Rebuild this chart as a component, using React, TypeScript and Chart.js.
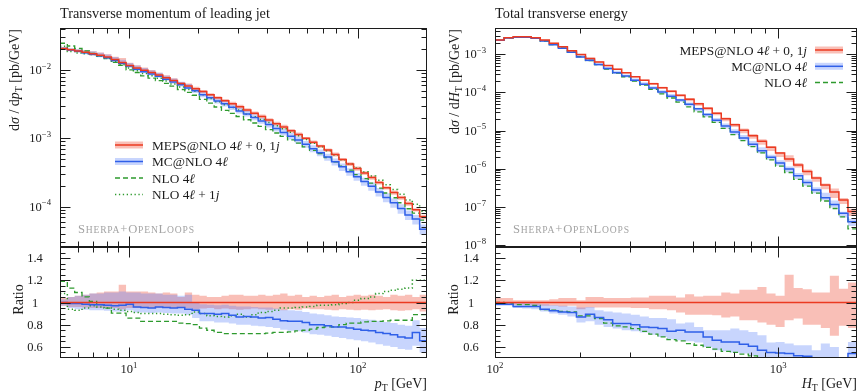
import React, { useEffect, useRef } from "react";
import { Chart, registerables } from "chart.js";

Chart.register(...registerables);

// ---------------- data: leading-jet pT (left) ----------------
const ptEdges = [5.0, 5.383, 5.795, 6.238, 6.716, 7.23, 7.784, 8.38, 9.021, 9.712, 10.456, 11.256, 12.118, 13.046, 14.044, 15.12, 16.277, 17.523, 18.865, 20.309, 21.864, 23.538, 25.34, 27.28, 29.369, 31.623, 34.044, 36.65, 39.456, 42.477, 45.729, 49.23, 53.0, 57.057, 61.425, 66.128, 71.191, 76.642, 82.51, 88.827, 95.628, 102.95, 110.831, 119.317, 128.452, 138.287, 148.874, 160.272, 172.543, 185.753, 200.0];
const ptMeps = [0.02071, 0.01988, 0.01903, 0.01821, 0.01737, 0.01651, 0.01553, 0.01427, 0.01289, 0.01165,
  0.0107, 0.0099, 0.00919, 0.00844, 0.0077, 0.00701, 0.00637, 0.00582, 0.00534, 0.00483,
  0.00436, 0.00394, 0.00356, 0.00322, 0.0029, 0.0026, 0.00233, 0.00208, 0.00185, 0.00164,
  0.00146, 0.00129, 0.00114, 0.001, 0.000879, 0.00077, 0.000673, 0.000582, 0.000491, 0.000422,
  0.000362, 0.000311, 0.000267, 0.000225, 0.00019, 0.000161, 0.000136, 0.000111, 0.0000903, 0.0000713];
const ptMepsUp = [1.04, 1.05, 1.06, 1.07, 1.08, 1.09, 1.1, 1.1, 1.16, 1.1,
  1.1, 1.1, 1.09, 1.08, 1.09, 1.08, 1.05, 1.09, 1.07, 1.06,
  1.05, 1.05, 1.06, 1.07, 1.07, 1.06, 1.06, 1.07, 1.06, 1.07,
  1.08, 1.06, 1.07, 1.05, 1.06, 1.05, 1.06, 1.07, 1.05, 1.06,
  1.07, 1.06, 1.07, 1.06, 1.05, 1.07, 1.06, 1.07, 1.05, 1.07];
const ptMepsDn = [0.97, 0.96, 0.96, 0.955, 0.95, 0.95, 0.95, 0.95, 0.94, 0.95,
  0.95, 0.95, 0.95, 0.955, 0.95, 0.95, 0.955, 0.95, 0.94, 0.945,
  0.95, 0.94, 0.945, 0.94, 0.935, 0.94, 0.945, 0.94, 0.935, 0.94,
  0.93, 0.94, 0.935, 0.945, 0.94, 0.94, 0.935, 0.93, 0.94, 0.935,
  0.93, 0.935, 0.93, 0.935, 0.94, 0.93, 0.925, 0.93, 0.94, 0.92];
const ptMcnloRatio = [1.0, 0.99, 0.99, 0.985, 0.98, 0.98, 0.975, 0.97, 0.975, 0.985,
  0.96, 0.955, 0.95, 0.96, 0.955, 0.95, 0.955, 0.94, 0.93, 0.9,
  0.9, 0.895, 0.9, 0.885, 0.87, 0.875, 0.87, 0.86, 0.865, 0.85,
  0.835, 0.83, 0.83, 0.82, 0.8, 0.8, 0.79, 0.78, 0.78, 0.77,
  0.76, 0.75, 0.745, 0.73, 0.72, 0.71, 0.69, 0.68, 0.73, 0.655];
const ptMcnloUp = [1.03, 1.05, 1.06, 1.07, 1.08, 1.08, 1.09, 1.09, 1.1, 1.09,
  1.09, 1.08, 1.08, 1.08, 1.07, 1.07, 1.06, 1.07, 1.0, 0.985,
  0.98, 0.975, 0.98, 0.97, 0.965, 0.965, 0.96, 0.955, 0.955, 0.945,
  0.935, 0.93, 0.925, 0.915, 0.9, 0.895, 0.885, 0.875, 0.87, 0.865,
  0.86, 0.85, 0.845, 0.835, 0.825, 0.815, 0.8, 0.79, 0.84, 0.77];
const ptMcnloDn = [0.97, 0.95, 0.94, 0.935, 0.93, 0.93, 0.925, 0.92, 0.92, 0.93,
  0.91, 0.91, 0.905, 0.91, 0.905, 0.9, 0.9, 0.89, 0.86, 0.83,
  0.83, 0.82, 0.82, 0.81, 0.8, 0.8, 0.79, 0.785, 0.78, 0.77,
  0.755, 0.745, 0.74, 0.73, 0.715, 0.71, 0.7, 0.69, 0.68, 0.67,
  0.66, 0.65, 0.64, 0.625, 0.61, 0.6, 0.58, 0.575, 0.61, 0.55];
const ptNloRatio = [1.19, 1.13, 1.09, 1.05, 1.01, 0.98, 0.95, 0.905, 0.905, 0.86,
  0.86, 0.83, 0.83, 0.83, 0.83, 0.83, 0.815, 0.81, 0.8, 0.77,
  0.75, 0.73, 0.72, 0.72, 0.72, 0.72, 0.72, 0.72, 0.725, 0.73,
  0.73, 0.735, 0.745, 0.75, 0.76, 0.775, 0.78, 0.78, 0.8, 0.815,
  0.815, 0.825, 0.83, 0.83, 0.835, 0.84, 0.84, 0.84, 0.89, 0.89];
const ptNlo1jRatio = [1.08, 0.94, 0.93, 0.95, 0.97, 0.96, 0.95, 0.94, 0.93, 0.92,
  0.91, 0.9, 0.9, 0.9, 0.895, 0.89, 0.885, 0.89, 0.915, 0.9,
  0.88, 0.875, 0.87, 0.88, 0.895, 0.87, 0.89, 0.91, 0.92, 0.93,
  0.95, 0.95, 0.955, 0.96, 0.965, 0.975, 0.975, 0.98, 0.99, 1.0,
  1.02, 1.035, 1.05, 1.08, 1.1, 1.11, 1.12, 1.13, 1.2, 1.2];

// ---------------- data: total transverse energy HT (right) ----------------
const htEdges = [100, 107.64, 115.86, 124.71, 134.24, 144.49, 155.53, 167.41, 180.2, 193.97, 208.79, 224.74, 241.91, 260.39, 280.28, 301.69, 324.74, 349.55, 376.25, 404.99, 435.89, 469.19, 505.03, 543.61, 585.14, 629.84, 677.96, 729.75, 785.5, 845.5, 910.09, 979.61, 1054.45, 1135.0, 1221.71, 1315.04, 1415.5, 1523.63, 1640.02, 1765.31, 1900];
const htMeps = [2.378e-3, 2.734e-3, 2.904e-3, 2.904e-3, 2.734e-3, 2.378e-3, 1.948e-3, 1.585e-3, 1.243e-3, 9.88e-4,
  7.85e-4, 6.27e-4, 5.07e-4, 4.1e-4, 3.32e-4, 2.6e-4, 2.11e-4, 1.7e-4, 1.34e-4, 1.08e-4,
  8.49e-5, 6.66e-5, 5.07e-5, 3.86e-5, 2.85e-5, 2.04e-5, 1.42e-5, 1.02e-5, 7.3e-6, 5.23e-6,
  3.64e-6, 2.6e-6, 1.81e-6, 1.26e-6, 8.49e-7, 5.73e-7, 3.75e-7, 2.45e-7, 1.51e-7, 7.52e-8];
const htMepsUp = [1.04, 1.04, 1.02, 1.02, 1.02, 1.02, 1.03, 1.04, 1.04, 1.02,
  1.05, 1.05, 1.04, 1.04, 1.04, 1.045, 1.045, 1.06, 1.06, 1.06,
  1.045, 1.075, 1.055, 1.06, 1.06, 1.09, 1.08, 1.115, 1.115, 1.14,
  1.08, 1.06, 1.25, 1.13, 1.12, 1.09, 1.09, 1.24, 1.125, 1.18];
const htMepsDn = [0.985, 0.985, 0.98, 0.98, 0.975, 0.97, 0.97, 0.965, 0.97, 0.94,
  0.955, 0.955, 0.955, 0.955, 0.955, 0.95, 0.95, 0.94, 0.94, 0.93,
  0.91, 0.89, 0.89, 0.89, 0.885, 0.865, 0.875, 0.84, 0.84, 0.82,
  0.8, 0.78, 0.84, 0.855, 0.8, 0.8, 0.77, 0.7, 0.79, 0.77];
const htMcnloRatio = [0.985, 0.985, 0.965, 0.965, 0.965, 0.94, 0.925, 0.915, 0.91, 0.87,
  0.895, 0.865, 0.845, 0.81, 0.81, 0.8, 0.78, 0.775, 0.765, 0.74,
  0.75, 0.735, 0.735, 0.69, 0.66, 0.645, 0.645, 0.625, 0.605, 0.57,
  0.55, 0.545, 0.54, 0.52, 0.515, 0.48, 0.46, 0.47, 0.45, 0.54];
const htMcnloUp = [1.0, 1.0, 1.0, 0.995, 0.99, 0.985, 0.975, 0.97, 0.965, 0.955,
  0.96, 0.93, 0.92, 0.91, 0.9, 0.89, 0.875, 0.86, 0.86, 0.85,
  0.81, 0.82, 0.78, 0.75, 0.75, 0.75, 0.765, 0.75, 0.735, 0.705,
  0.64, 0.645, 0.63, 0.615, 0.615, 0.57, 0.63, 0.6, 0.49, 0.645];
const htMcnloDn = [0.97, 0.97, 0.95, 0.945, 0.94, 0.92, 0.9, 0.89, 0.875, 0.82,
  0.83, 0.8, 0.78, 0.765, 0.75, 0.74, 0.73, 0.71, 0.69, 0.67,
  0.66, 0.65, 0.64, 0.6, 0.57, 0.56, 0.55, 0.54, 0.52, 0.49,
  0.47, 0.46, 0.45, 0.43, 0.42, 0.4, 0.4, 0.39, 0.35, 0.42];
const htNloRatio = [1.0, 0.995, 0.98, 0.98, 0.975, 0.935, 0.93, 0.92, 0.915, 0.88,
  0.88, 0.855, 0.815, 0.79, 0.78, 0.765, 0.74, 0.715, 0.69, 0.665,
  0.655, 0.63, 0.615, 0.595, 0.58, 0.56, 0.55, 0.535, 0.52, 0.5,
  0.47, 0.45, 0.44, 0.42, 0.41, 0.4, 0.38, 0.37, 0.36, 0.35];

// ratio-axis ticks
const ratioMajor = [0.6, 0.8, 1.0, 1.2, 1.4];
const ratioLabels = ["0.6", "0.8", "1", "1.2", "1.4"];
const ratioMinor = [0.5, 0.55, 0.65, 0.7, 0.75, 0.85, 0.9, 0.95, 1.05, 1.1, 1.15, 1.25, 1.3, 1.35, 1.45];

// ---------------- styling ----------------
const SERIF = "'Liberation Serif', 'DejaVu Serif', serif";
const RED = "#eb3a21";
const RED_BAND = "rgba(240, 95, 75, 0.40)";
const BLUE = "#2f5fe8";
const BLUE_BAND = "rgba(85, 125, 250, 0.32)";
const GREEN = "#2e9a2e";
const INK = "#1c1c1c";

type Seg = { t: string; it?: boolean; sub?: boolean; sup?: boolean; k?: number };

function segFont(size: number, s: Seg) {
  const k = s.k ?? (s.sub || s.sup ? 0.7 : 1);
  return `${s.it ? "italic " : ""}${(size * k).toFixed(2)}px ${SERIF}`;
}
function segsWidth(ctx: CanvasRenderingContext2D, segs: Seg[], size: number) {
  let w = 0;
  for (const s of segs) {
    ctx.font = segFont(size, s);
    w += ctx.measureText(s.t).width;
  }
  return w;
}
function drawSegs(ctx: CanvasRenderingContext2D, segs: Seg[], x: number, y: number, size: number, align: string) {
  const w = segsWidth(ctx, segs, size);
  let cx = align === "left" ? x : align === "right" ? x - w : x - w / 2;
  ctx.textAlign = "left";
  ctx.textBaseline = "alphabetic";
  for (const s of segs) {
    ctx.font = segFont(size, s);
    const dy = s.sub ? size * 0.22 : s.sup ? -size * 0.42 : 0;
    ctx.fillText(s.t, cx, y + dy);
    cx += ctx.measureText(s.t).width;
  }
}

function logMajors(lo: number, hi: number) {
  const out: number[] = [];
  for (let e = Math.floor(Math.log10(lo)); e <= Math.ceil(Math.log10(hi)); e++) {
    const v = Math.pow(10, e);
    if (v >= lo && v <= hi) out.push(v);
  }
  return out;
}
function logMinors(lo: number, hi: number) {
  const out: number[] = [];
  for (let e = Math.floor(Math.log10(lo)); e <= Math.ceil(Math.log10(hi)); e++) {
    for (let m = 2; m <= 9; m++) {
      const v = m * Math.pow(10, e);
      if (v > lo * 1.001 && v < hi * 0.999) out.push(v);
    }
  }
  return out;
}
function expLabel(v: number): Seg[] {
  const e = Math.round(Math.log10(v));
  return [{ t: "10" }, { t: e < 0 ? "\u2212" + -e : String(e), sup: true }];
}

function steps(edges: number[], vals: number[]) {
  const pts = vals.map((v, i) => ({ x: edges[i], y: v }));
  pts.push({ x: edges[vals.length], y: vals[vals.length - 1] });
  return pts;
}
function scaled(base: number[], ratio: number[]) {
  return base.map((b, i) => b * ratio[i]);
}
function lineDs(data: any[], color: string, dash: number[] = [], width = 1.5) {
  return { data, borderColor: color, borderWidth: width, borderDash: dash, pointRadius: 0, fill: false, stepped: true, order: 0, borderCapStyle: "butt" };
}
function bandDs(lo: any[], hi: any[], color: string, order: number) {
  return [
    { data: lo, borderWidth: 0, borderColor: "rgba(0,0,0,0)", pointRadius: 0, fill: false, stepped: true, order },
    { data: hi, borderWidth: 0, borderColor: "rgba(0,0,0,0)", pointRadius: 0, fill: "-1", backgroundColor: color, stepped: true, order },
  ];
}

type LegendItem = { segs: Seg[]; color: string; band?: string; dash?: number[] };

interface Decor {
  xMajor: number[];
  xMinor: number[];
  yMajor: number[];
  yMinor: number[];
  yLabels: { v: number; segs: Seg[] }[];
  yLabelAlign: string;
  yLabelDx: number;
  yTitle: Seg[];
  yTitleDx: number;
  yTitleMode: string;
  xLabels?: { v: number; segs: Seg[] }[];
  xTitle?: Seg[];
  title?: string;
  legend?: { items: LegendItem[]; x1: number; x2: number; tx: number; talign: string; y0: number; dy: number };
  mark?: { x: number; y: number };
}

function decorPlugin(d: Decor) {
  return {
    id: "decor",
    afterDraw(chart: any) {
      const ctx: CanvasRenderingContext2D = chart.ctx;
      const a = chart.chartArea;
      const xs = chart.scales.x;
      const ys = chart.scales.y;
      ctx.save();
      ctx.strokeStyle = INK;
      ctx.fillStyle = INK;
      ctx.lineWidth = 1;
      ctx.setLineDash([]);
      const L = Math.round(a.left) + 0.5;
      const R = Math.round(a.right) - 0.5;
      const T = Math.round(a.top) + 0.5;
      const B = Math.round(a.bottom) - 0.5;
      const seg = (x1: number, y1: number, x2: number, y2: number) => {
        ctx.beginPath();
        ctx.moveTo(x1, y1);
        ctx.lineTo(x2, y2);
        ctx.stroke();
      };
      ctx.strokeRect(L, T, R - L, B - T);
      const xt = (vals: number[], len: number) => {
        for (const v of vals) {
          const p = Math.round(xs.getPixelForValue(v)) + 0.5;
          if (p <= L + 0.5 || p >= R - 0.5) continue;
          seg(p, T, p, T + len);
          seg(p, B, p, B - len);
        }
      };
      const yt = (vals: number[], len: number) => {
        for (const v of vals) {
          const p = Math.round(ys.getPixelForValue(v)) + 0.5;
          if (p <= T + 0.5 || p >= B - 0.5) continue;
          seg(L, p, L + len, p);
          seg(R, p, R - len, p);
        }
      };
      xt(d.xMinor, 5);
      xt(d.xMajor, 10);
      yt(d.yMinor, 5);
      yt(d.yMajor, 10);

      for (const lab of d.yLabels) {
        const p = ys.getPixelForValue(lab.v);
        drawSegs(ctx, lab.segs, a.left + d.yLabelDx, p + 4, 12.5, d.yLabelAlign);
      }
      if (d.xLabels) {
        for (const lab of d.xLabels) {
          const p = xs.getPixelForValue(lab.v);
          drawSegs(ctx, lab.segs, p, a.bottom + 15, 12.5, "center");
        }
      }
      if (d.xTitle) drawSegs(ctx, d.xTitle, a.right, a.bottom + 30, 14, "right");

      ctx.save();
      if (d.yTitleMode === "top") {
        ctx.translate(a.left + d.yTitleDx, a.top + 1);
        ctx.rotate(-Math.PI / 2);
        drawSegs(ctx, d.yTitle, 0, 0, 14, "right");
      } else {
        ctx.translate(a.left + d.yTitleDx, (a.top + a.bottom) / 2 - 3);
        ctx.rotate(-Math.PI / 2);
        drawSegs(ctx, d.yTitle, 0, 0, 14, "center");
      }
      ctx.restore();

      if (d.title) drawSegs(ctx, [{ t: d.title }], a.left, 17.5, 14.3, "left");

      if (d.legend) {
        const lg = d.legend;
        lg.items.forEach((it, i) => {
          const y = lg.y0 + i * lg.dy;
          if (it.band) {
            ctx.fillStyle = it.band;
            ctx.fillRect(lg.x1, y - 3.5, lg.x2 - lg.x1, 7);
          }
          ctx.strokeStyle = it.color;
          ctx.lineWidth = 1.5;
          ctx.setLineDash(it.dash || []);
          seg(lg.x1, y, lg.x2, y);
          ctx.setLineDash([]);
          ctx.fillStyle = INK;
          drawSegs(ctx, it.segs, lg.tx, y + 4.5, 13.3, lg.talign);
        });
      }
      if (d.mark) {
        ctx.fillStyle = "#a3a3a3";
        (ctx as any).letterSpacing = "0.8px";
        drawSegs(ctx, [
          { t: "S", k: 1 }, { t: "HERPA", k: 0.76 }, { t: "+", k: 1 }, { t: "O", k: 1 },
          { t: "PEN", k: 0.76 }, { t: "L", k: 1 }, { t: "OOPS", k: 0.76 },
        ], d.mark.x, d.mark.y, 12.6, "left");
        (ctx as any).letterSpacing = "0px";
      }
      ctx.restore();
    },
  };
}

function baseOptions(padding: any, xMin: number, xMax: number, yType: string, yMin: number, yMax: number) {
  return {
    animation: false,
    responsive: false,
    maintainAspectRatio: false,
    devicePixelRatio: 1,
    events: [],
    layout: { padding },
    plugins: { legend: { display: false }, tooltip: { enabled: false }, title: { display: false } },
    elements: { point: { radius: 0 } },
    scales: {
      x: { type: "logarithmic", min: xMin, max: xMax, display: false },
      y: { type: yType, min: yMin, max: yMax, display: false },
    },
  };
}

const legendMeps: Seg[] = [{ t: "MEPS@NLO 4" }, { t: "\u2113", it: true }, { t: " + 0, 1" }, { t: "j", it: true }];
const legendMc: Seg[] = [{ t: "MC@NLO 4" }, { t: "\u2113", it: true }];
const legendNlo: Seg[] = [{ t: "NLO 4" }, { t: "\u2113", it: true }];
const legendNlo1j: Seg[] = [{ t: "NLO 4" }, { t: "\u2113", it: true }, { t: " + 1" }, { t: "j", it: true }];

function ratioLabelSet() {
  return ratioMajor.map((v, i) => ({ v, segs: [{ t: ratioLabels[i] }] as Seg[] }));
}

// ---------------- chart configs ----------------
function leftMain() {
  const yMin = Math.pow(10, -4.59), yMax = Math.pow(10, -1.385);
  const mc = scaled(ptMeps, ptMcnloRatio);
  const datasets = [
    ...bandDs(steps(ptEdges, scaled(ptMeps, ptMepsDn)), steps(ptEdges, scaled(ptMeps, ptMepsUp)), RED_BAND, 6),
    ...bandDs(steps(ptEdges, scaled(ptMeps, ptMcnloDn)), steps(ptEdges, scaled(ptMeps, ptMcnloUp)), BLUE_BAND, 5),
    lineDs(steps(ptEdges, ptMeps), RED),
    lineDs(steps(ptEdges, mc), BLUE),
    lineDs(steps(ptEdges, scaled(ptMeps, ptNloRatio)), GREEN, [5, 3], 1.3),
    lineDs(steps(ptEdges, scaled(ptMeps, ptNlo1jRatio)), GREEN, [1.3, 2.6], 1.5),
  ];
  const yMajor = logMajors(yMin, yMax);
  const decor: Decor = {
    xMajor: logMajors(5, 200), xMinor: logMinors(5, 200),
    yMajor, yMinor: logMinors(yMin, yMax),
    yLabels: yMajor.map((v) => ({ v, segs: expLabel(v) })), yLabelAlign: "right", yLabelDx: -9,
    yTitle: [{ t: "d" }, { t: "\u03c3", it: true }, { t: " / d" }, { t: "p", it: true }, { t: "T", sub: true }, { t: " [pb/GeV]" }],
    yTitleDx: -41, yTitleMode: "top",
    title: "Transverse momentum of leading jet",
    legend: {
      items: [
        { segs: legendMeps, color: RED, band: RED_BAND },
        { segs: legendMc, color: BLUE, band: BLUE_BAND },
        { segs: legendNlo, color: GREEN, dash: [5, 3] },
        { segs: legendNlo1j, color: GREEN, dash: [1.3, 2.6] },
      ],
      x1: 115, x2: 143, tx: 152, talign: "left", y0: 145, dy: 16.5,
    },
    mark: { x: 78, y: 233 },
  };
  return {
    type: "line",
    data: { datasets },
    options: baseOptions({ left: 60, right: 4, top: 28, bottom: 145 }, 5, 200, "logarithmic", yMin, yMax),
    plugins: [decorPlugin(decor)],
  };
}

function leftRatio() {
  const datasets = [
    ...bandDs(steps(ptEdges, ptMepsDn), steps(ptEdges, ptMepsUp), RED_BAND, 6),
    ...bandDs(steps(ptEdges, ptMcnloDn), steps(ptEdges, ptMcnloUp), BLUE_BAND, 5),
    lineDs(steps(ptEdges, ptMeps.map((v) => v / v)), RED),
    lineDs(steps(ptEdges, ptMcnloRatio), BLUE),
    lineDs(steps(ptEdges, ptNloRatio), GREEN, [5, 3], 1.3),
    lineDs(steps(ptEdges, ptNlo1jRatio), GREEN, [1.3, 2.6], 1.5),
  ];
  const decor: Decor = {
    xMajor: logMajors(5, 200), xMinor: logMinors(5, 200),
    yMajor: ratioMajor, yMinor: ratioMinor,
    yLabels: ratioLabelSet(), yLabelAlign: "center", yLabelDx: -25,
    yTitle: [{ t: "Ratio" }], yTitleDx: -37, yTitleMode: "center",
    xLabels: logMajors(5, 200).map((v) => ({ v, segs: expLabel(v) })),
    xTitle: [{ t: "p", it: true }, { t: "T", sub: true }, { t: " [GeV]" }],
  };
  return {
    type: "line",
    data: { datasets },
    options: baseOptions({ left: 60, right: 4, top: 247, bottom: 34 }, 5, 200, "linear", 0.5, 1.5),
    plugins: [decorPlugin(decor)],
  };
}

function rightMain() {
  const yMin = Math.pow(10, -8.053), yMax = Math.pow(10, -2.308);
  const datasets = [
    ...bandDs(steps(htEdges, scaled(htMeps, htMepsDn)), steps(htEdges, scaled(htMeps, htMepsUp)), RED_BAND, 6),
    ...bandDs(steps(htEdges, scaled(htMeps, htMcnloDn)), steps(htEdges, scaled(htMeps, htMcnloUp)), BLUE_BAND, 5),
    lineDs(steps(htEdges, htMeps), RED),
    lineDs(steps(htEdges, scaled(htMeps, htMcnloRatio)), BLUE),
    lineDs(steps(htEdges, scaled(htMeps, htNloRatio)), GREEN, [5, 3], 1.3),
  ];
  const yMajor = logMajors(yMin, yMax);
  const decor: Decor = {
    xMajor: logMajors(100, 1900), xMinor: logMinors(100, 1900),
    yMajor, yMinor: logMinors(yMin, yMax),
    yLabels: yMajor.map((v) => ({ v, segs: expLabel(v) })), yLabelAlign: "right", yLabelDx: -9,
    yTitle: [{ t: "d" }, { t: "\u03c3", it: true }, { t: " / d" }, { t: "H", it: true }, { t: "T", sub: true }, { t: " [pb/GeV]" }],
    yTitleDx: -36, yTitleMode: "top",
    title: "Total transverse energy",
    legend: {
      items: [
        { segs: legendMeps, color: RED, band: RED_BAND },
        { segs: legendMc, color: BLUE, band: BLUE_BAND },
        { segs: legendNlo, color: GREEN, dash: [5, 3] },
      ],
      x1: 815 - 431, x2: 843 - 431, tx: 807 - 431, talign: "right", y0: 50, dy: 16.3,
    },
    mark: { x: 513 - 431, y: 233 },
  };
  return {
    type: "line",
    data: { datasets },
    options: baseOptions({ left: 64, right: 6, top: 28, bottom: 145 }, 100, 1900, "logarithmic", yMin, yMax),
    plugins: [decorPlugin(decor)],
  };
}

function rightRatio() {
  const datasets = [
    ...bandDs(steps(htEdges, htMepsDn), steps(htEdges, htMepsUp), RED_BAND, 6),
    ...bandDs(steps(htEdges, htMcnloDn), steps(htEdges, htMcnloUp), BLUE_BAND, 5),
    lineDs(steps(htEdges, htMeps.map((v) => v / v)), RED),
    lineDs(steps(htEdges, htMcnloRatio), BLUE),
    lineDs(steps(htEdges, htNloRatio), GREEN, [5, 3], 1.3),
  ];
  const decor: Decor = {
    xMajor: logMajors(100, 1900), xMinor: logMinors(100, 1900),
    yMajor: ratioMajor, yMinor: ratioMinor,
    yLabels: ratioLabelSet(), yLabelAlign: "center", yLabelDx: -24,
    yTitle: [{ t: "Ratio" }], yTitleDx: -37, yTitleMode: "center",
    xLabels: logMajors(100, 1900).map((v) => ({ v, segs: expLabel(v) })),
    xTitle: [{ t: "H", it: true }, { t: "T", sub: true }, { t: " [GeV]" }],
  };
  return {
    type: "line",
    data: { datasets },
    options: baseOptions({ left: 64, right: 6, top: 247, bottom: 34 }, 100, 1900, "linear", 0.5, 1.5),
    plugins: [decorPlugin(decor)],
  };
}

function ChartCanvas({ make, left, width }: { make: () => any; left: number; width: number }) {
  const ref = useRef<HTMLCanvasElement>(null);
  useEffect(() => {
    const chart = new Chart(ref.current as HTMLCanvasElement, make());
    return () => chart.destroy();
  }, []);
  return (
    <canvas
      ref={ref}
      width={width}
      height={392}
      style={{ position: "absolute", left, top: 0, width, height: 392 }}
    />
  );
}

export default function App() {
  return (
    <div style={{ position: "absolute", left: 0, top: 0, width: 863, height: 392, background: "#fff", overflow: "hidden" }}>
      <ChartCanvas make={leftMain} left={0} width={431} />
      <ChartCanvas make={leftRatio} left={0} width={431} />
      <ChartCanvas make={rightMain} left={431} width={432} />
      <ChartCanvas make={rightRatio} left={431} width={432} />
    </div>
  );
}
